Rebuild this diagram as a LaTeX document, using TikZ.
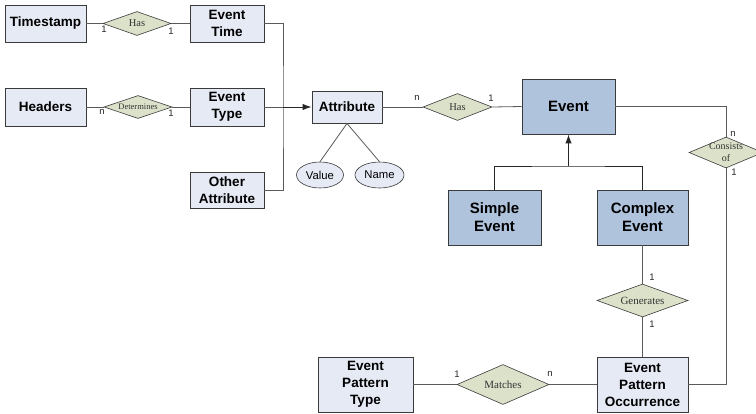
\documentclass[tikz,border=0pt]{standalone}
\usepackage{fontspec}
\setmainfont{Liberation Serif}
\setsansfont{Liberation Sans}
\usetikzlibrary{shapes.geometric,arrows.meta}
\definecolor{entlight}{HTML}{E6EAF5}
\definecolor{entdark}{HTML}{AFC3DD}
\definecolor{relfill}{HTML}{DCE2CA}
\definecolor{edgec}{HTML}{3A3A3A}
\definecolor{linkc}{HTML}{5A5A5A}
\begin{document}
\begin{tikzpicture}[x=1pt,y=-1pt,
  ent/.style={draw=edgec,line width=0.9pt,fill=entlight,inner sep=0pt,align=center,
    font=\sffamily\bfseries\fontsize{13.5}{17}\selectfont},
  entd/.style={ent,fill=entdark,font=\sffamily\bfseries\fontsize{15}{18}\selectfont},
  rel/.style={diamond,draw=edgec,line width=0.6pt,fill=relfill,inner sep=0pt},
  attr/.style={ellipse,draw=edgec,line width=0.6pt,fill=entlight,inner sep=0pt,
    font=\sffamily\fontsize{11.3}{13}\selectfont},
  link/.style={draw=linkc,line width=0.8pt},
  isa/.style={draw=black!85,line width=1pt},
  tip/.style={-{Latex[length=9pt,width=6.5pt]}},
  card/.style={font=\sffamily\fontsize{9.5}{10}\selectfont,inner sep=0pt,text=black!85},
  reltext/.style={font=\rmfamily\fontsize{#1}{12}\selectfont,text=black!80,align=center,inner sep=0pt},
  reltext/.default=10.5
]
\useasboundingbox (0,0) rectangle (756,413);

% entities
\node[ent,minimum width=81pt,minimum height=37pt] (ts) at (45.5,23.5) {Timestamp};
\node[ent,minimum width=74pt,minimum height=37pt] (evtime) at (227,23.5) {Event\\Time};
\node[ent,minimum width=81pt,minimum height=38pt] (headers) at (45.5,107) {Headers};
\node[ent,minimum width=74pt,minimum height=38pt] (evtype) at (227,107) {Event\\Type};
\node[ent,minimum width=74pt,minimum height=36pt] (other) at (227,190) {Other\\Attribute};
\node[ent,minimum width=70pt,minimum height=32pt] (attrib) at (347,107) {Attribute};
\node[entd,minimum width=93pt,minimum height=55pt] (event) at (568.5,106.5) {Event};
\node[entd,minimum width=93pt,minimum height=55pt] (simple) at (494.5,217.5) {Simple\\Event};
\node[entd,minimum width=91pt,minimum height=55pt] (complex) at (642.5,217.5) {Complex\\Event};
\node[ent,minimum width=91pt,minimum height=55pt] (epo) at (642.5,384.5) {Event\\Pattern\\Occurrence};
\node[ent,minimum width=95pt,minimum height=55pt] (ept) at (365.5,384.5) {Event\\Pattern\\Type};

% attributes
\node[attr,minimum width=47pt,minimum height=26pt] (value) at (320,175) {Value};
\node[attr,minimum width=49pt,minimum height=26pt] (name) at (379.5,175) {Name};

% relationships
\node[rel,minimum width=68pt,minimum height=24pt] (hasA) at (137,23.5) {};
\node[reltext] at (hasA.center) {Has};
\node[rel,minimum width=68pt,minimum height=23pt] (det) at (138,107) {};
\node[reltext=8.5] at (det.center) {Determines};
\node[rel,minimum width=69pt,minimum height=27pt] (hasB) at (457.5,107) {};
\node[reltext] at (hasB.center) {Has};
\node[rel,minimum width=74pt,minimum height=31pt] (cons) at (726,152.5) {};
\node[reltext=10] at (cons.center) {Consists\\of};
\node[rel,minimum width=91pt,minimum height=33pt] (gen) at (642.5,300.5) {};
\node[reltext=11] at (gen.center) {Generates};
\node[rel,minimum width=92pt,minimum height=40pt] (match) at (503,384.5) {};
\node[reltext=11] at (match.center) {Matches};

% junction points
\coordinate (jA) at (283,107);
\coordinate (jB) at (568.5,166);

% connectors
\draw[link] (ts.east) -- (hasA.west);
\draw[link] (hasA.east) -- (evtime.west);
\draw[link] (headers.east) -- (det.west);
\draw[link] (det.east) -- (evtype.west);
\draw[link] (evtime.east) -| (jA) |- (other.east);
\draw[link] (evtype.east) -- (jA);
\draw[isa,tip] (jA) -- (attrib.west);
\draw[link] (attrib.south) -- (value.north);
\draw[link] (attrib.south) -- (name.north);
\draw[link] (attrib.east) -- (hasB.west);
\draw[link] (hasB.east) -- (event.west);
\draw[link] (event.east) -| (cons.north);
\draw[link] (cons.south) |- (epo.east);
\draw[isa] (simple.north) |- (jB) -| (complex.north);
\draw[isa,tip] (jB) -- (event.south);
\draw[link] (complex.south) -- (gen.north);
\draw[link] (gen.south) -- (epo.north);
\draw[link] (ept.east) -- (match.west);
\draw[link] (match.east) -- (epo.west);

% cardinalities
\node[card] at (104,29) {1};
\node[card] at (171,31) {1};
\node[card] at (102,112) {n};
\node[card] at (171,113) {1};
\node[card] at (417,98) {n};
\node[card] at (491,98) {1};
\node[card] at (733,134) {n};
\node[card] at (734,172) {1};
\node[card] at (652,277) {1};
\node[card] at (652,324) {1};
\node[card] at (457,374) {1};
\node[card] at (550,374) {n};
\end{tikzpicture}
\end{document}
